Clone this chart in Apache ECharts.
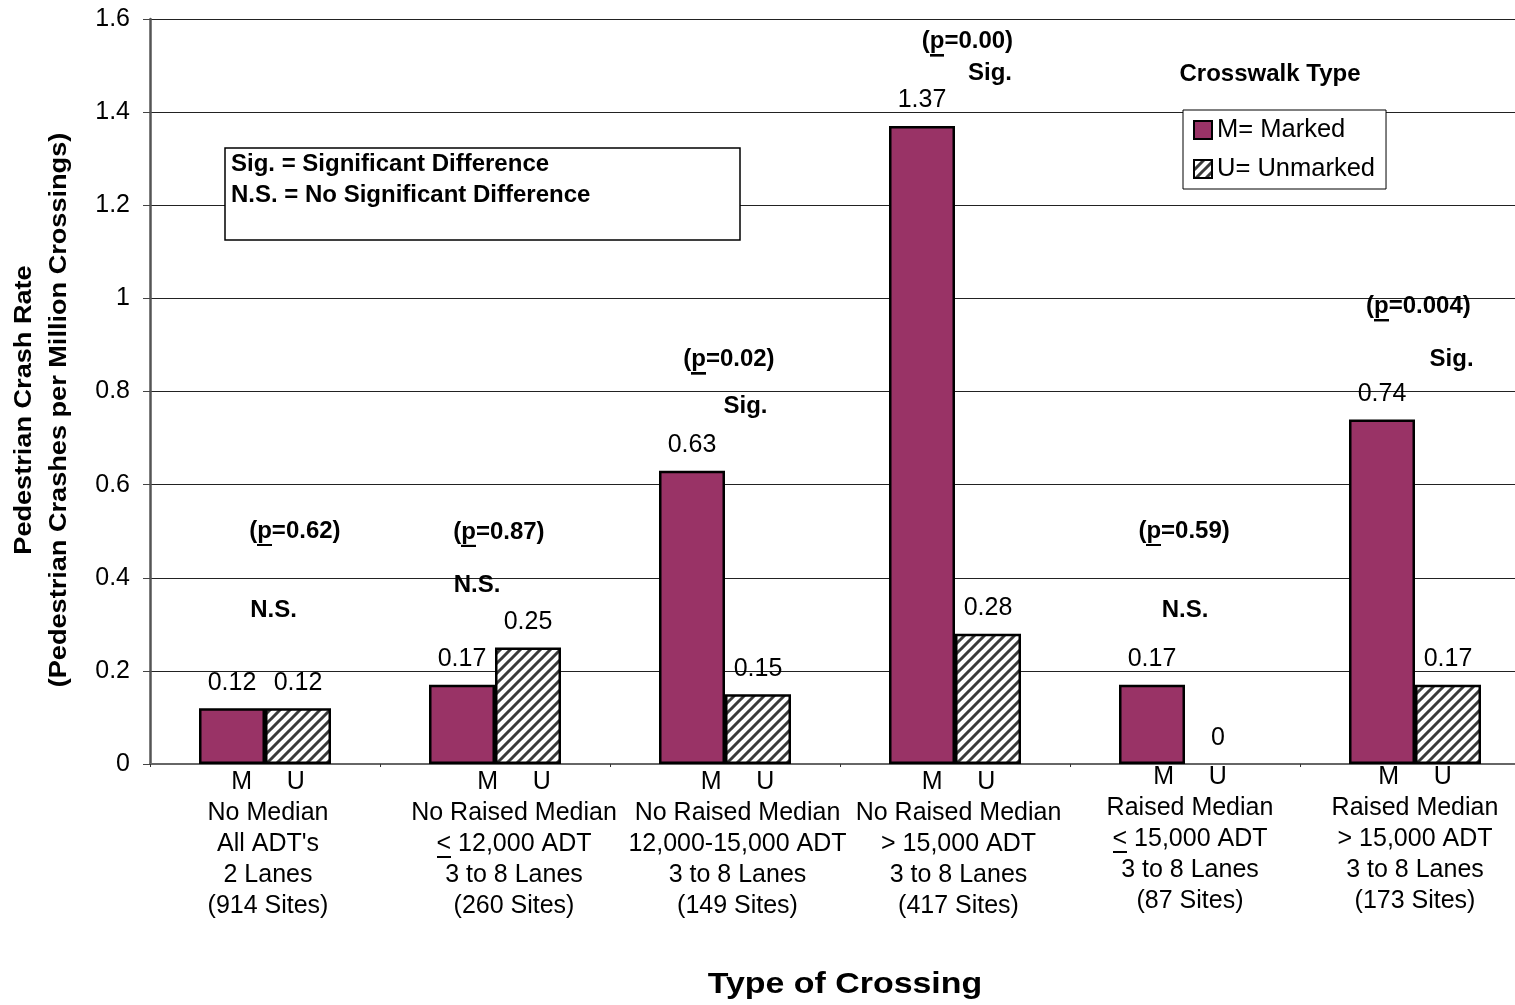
<!DOCTYPE html>
<html><head><meta charset="utf-8">
<script src="https://cdn.jsdelivr.net/npm/echarts@6/dist/echarts.min.js"></script>
<style>html,body{margin:0;padding:0;background:#fff;overflow:hidden}#c{width:1530px;height:1005px}</style>
</head><body><div id="c"></div>
<script>
// ---- data ----
const categories = [
  "No Median\nAll ADT's\n2 Lanes\n(914 Sites)",
  "No Raised Median\n≤ 12,000 ADT\n3 to 8 Lanes\n(260 Sites)",
  "No Raised Median\n12,000-15,000 ADT\n3 to 8 Lanes\n(149 Sites)",
  "No Raised Median\n> 15,000 ADT\n3 to 8 Lanes\n(417 Sites)",
  "Raised Median\n≤ 15,000 ADT\n3 to 8 Lanes\n(87 Sites)",
  "Raised Median\n> 15,000 ADT\n3 to 8 Lanes\n(173 Sites)"
];
const barTags = 'M     U';
const seriesNames = ['M= Marked', 'U= Unmarked'];
const markedValues = [0.12, 0.17, 0.63, 1.37, 0.17, 0.74];
const unmarkedValues = [0.12, 0.25, 0.15, 0.28, 0, 0.17];
const yTicks = { min: 0, max: 1.6, interval: 0.2 };
// annotations: [category index, offset within category, value, text]
const pValues = [
  [0, 0.13, 0.500, '(p=0.62)'],
  [1, 0.017, 0.498, '(p=0.87)'],
  [2, 0.017, 0.868, '(p=0.02)'],
  [3, 0.054, 1.551, '(p=0.00)'],
  [4, -0.004, 0.500, '(p=0.59)'],
  [5, 0.015, 0.982, '(p=0.004)']
];
const sigLabels = [
  [0, 0.037, 0.331, 'N.S.'],
  [1, -0.078, 0.384, 'N.S.'],
  [2, 0.089, 0.767, 'Sig.'],
  [3, 0.152, 1.484, 'Sig.'],
  [4, 0.0, 0.331, 'N.S.'],
  [5, 0.159, 0.868, 'Sig.']
];

// ---- layout (px shifts of each category's label block) ----
const labelShiftX = [3, 19, 12.5, 3.5, 5, 0];
const labelRaised = [false, false, false, false, true, true];

// ---- helpers ----
const FONT = '"Liberation Sans", Arial, sans-serif';
function hatchCanvas() {
  const s = 10, c = document.createElement('canvas');
  c.width = s; c.height = s;
  const g = c.getContext('2d');
  g.fillStyle = '#fff'; g.fillRect(0, 0, s, s);
  g.strokeStyle = '#3a3a3a'; g.lineWidth = 3;
  g.beginPath();
  for (const o of [-s, 0, s]) { g.moveTo(o - 1, s + 1); g.lineTo(o + s + 1, -1); }
  g.stroke();
  return c;
}
function underlineCanvas(top, bottom) {
  const c = document.createElement('canvas');
  c.width = 4; c.height = 100;
  const g = c.getContext('2d');
  g.fillStyle = '#000'; g.fillRect(0, top, 4, bottom - top);
  return c;
}
const hatch = { image: hatchCanvas(), repeat: 'repeat' };
const ulAxis = { image: underlineCanvas(90, 97) };
const ulP = { image: underlineCanvas(89, 96) };

const chart = echarts.init(document.getElementById('c'), null, { renderer: 'canvas' });

const barLabel = { show: true, position: 'top', distance: 13, fontSize: 25, fontFamily: FONT, color: '#000' };

function barData(vals) {
  return vals.map(v => ({ value: v, itemStyle: { borderWidth: v === 0 ? 0 : 2.5 } }));
}
function annData(arr) {
  return arr.map(a => ({ value: [a[0] + a[1], a[2]], txt: a[3] }));
}
const annLabelBase = {
  show: true, position: 'inside', fontSize: 24, fontWeight: 'bold', fontFamily: FONT, color: '#000',
  textBorderWidth: 0, textBorderColor: 'transparent', opacity: 1
};

// rich styles for axis labels
const axisRich = {
  mu: { fontSize: 25, lineHeight: 31, fontFamily: FONT, color: '#000' },
  muR: { fontSize: 25, lineHeight: 21, fontFamily: FONT, color: '#000' },
  sp: { fontSize: 1, lineHeight: 5 },
  u: { fontSize: 25, fontFamily: FONT, color: '#000', height: 28, backgroundColor: ulAxis }
};
labelShiftX.forEach((s, i) => { axisRich['w' + i] = { width: Math.max(0, 2 * s), fontSize: 1, lineHeight: 1 }; });

function axisFormatter(value, index) {
  const pad = labelShiftX[index] > 0 ? '{w' + index + '| }' : '';
  const raised = labelRaised[index];
  const lines = [pad + '{' + (raised ? 'muR' : 'mu') + '|' + barTags + '}'];
  if (raised) lines.push('{sp| }');
  value.split('\n').forEach(l => lines.push(pad + l.replace(/≤/g, '{u|<}')));
  return lines.join('\n');
}

const option = {
  backgroundColor: '#fff',
  animation: false,
  grid: { left: 150, top: 19, right: 0, bottom: 241, containLabel: false },
  legend: {
    data: seriesNames,
    orient: 'vertical',
    left: 1183, top: 110,
    padding: [7, 11, 7, 10],
    itemGap: 13,
    itemWidth: 18, itemHeight: 18,
    icon: 'rect',
    backgroundColor: '#fff',
    borderColor: '#000', borderWidth: 1,
    textStyle: { fontSize: 25.5, fontFamily: FONT, color: '#000', lineHeight: 26 },
    selectedMode: false,
    z: 20
  },
  xAxis: [{
    type: 'category',
    data: categories,
    axisLine: { show: true, lineStyle: { color: '#666', width: 2 } },
    axisTick: { show: true, length: 3, lineStyle: { color: '#333' } },
    axisLabel: {
      interval: 0, margin: 3, fontSize: 25, lineHeight: 31, fontFamily: FONT, color: '#000',
      formatter: axisFormatter,
      rich: axisRich
    },
    splitLine: { show: false }
  }, {
    type: 'value', min: -0.5, max: 5.5, show: false
  }],
  yAxis: {
    type: 'value', min: yTicks.min, max: yTicks.max, interval: yTicks.interval,
    axisLine: { show: true, onZero: false, lineStyle: { color: '#555', width: 2.5 } },
    axisTick: { show: true, length: 7, lineStyle: { color: '#444' } },
    axisLabel: { margin: 20, fontSize: 25, fontFamily: FONT, color: '#000' },
    splitLine: { show: true, lineStyle: { color: '#222', width: 1 } }
  },
  series: [{
    name: seriesNames[0], type: 'bar', data: barData(markedValues),
    barWidth: 66, barGap: '0%',
    itemStyle: { color: '#993366', borderColor: '#000', borderWidth: 2.5 },
    label: barLabel, z: 3
  }, {
    name: seriesNames[1], type: 'bar', data: barData(unmarkedValues),
    barWidth: 66, barGap: '0%',
    itemStyle: { color: hatch, borderColor: '#000', borderWidth: 2.5 },
    label: barLabel, z: 3
  }, {
    type: 'scatter', xAxisIndex: 1, symbolSize: 0, silent: true,
    itemStyle: { color: '#000' },
    data: annData(pValues),
    label: Object.assign({}, annLabelBase, {
      formatter: p => p.data.txt.replace('(p', '({u|p}'),
      rich: {
        u: { fontSize: 24, fontWeight: 'bold', fontFamily: FONT, color: '#000', height: 32, backgroundColor: ulP }
      }
    }),
    z: 10
  }, {
    type: 'scatter', xAxisIndex: 1, symbolSize: 0, silent: true,
    itemStyle: { color: '#000' },
    data: annData(sigLabels),
    label: Object.assign({}, annLabelBase, { formatter: p => p.data.txt }),
    z: 10
  }],
  graphic: [
    {
      type: 'rect', z: 50,
      shape: { x: 225, y: 148, width: 515, height: 92 },
      style: { fill: '#fff', stroke: '#000', lineWidth: 1.5 }
    },
    {
      type: 'text', z: 51, x: 231, y: 164,
      style: { text: 'Sig. = Significant Difference', font: 'bold 24px ' + FONT, fill: '#000', textAlign: 'left', textVerticalAlign: 'middle', verticalAlign: 'middle' }
    },
    {
      type: 'text', z: 51, x: 231, y: 195,
      style: { text: 'N.S. = No Significant Difference', font: 'bold 24px ' + FONT, fill: '#000', textAlign: 'left', textVerticalAlign: 'middle', verticalAlign: 'middle' }
    },
    {
      type: 'text', z: 51, x: 1270, y: 74,
      style: { text: 'Crosswalk Type', font: 'bold 24px ' + FONT, fill: '#000', textAlign: 'center', textVerticalAlign: 'middle', verticalAlign: 'middle' }
    },
    {
      type: 'text', z: 51, x: 42, y: 410, rotation: Math.PI / 2, scaleX: 1.13,
      style: { text: 'Pedestrian Crash Rate\n(Pedestrian Crashes per Million Crossings)', font: 'bold 24px ' + FONT, lineHeight: 35, fill: '#000', textAlign: 'center', textVerticalAlign: 'middle', verticalAlign: 'middle' }
    },
    {
      type: 'text', z: 51, x: 845, y: 985, scaleX: 1.13,
      style: { text: 'Type of Crossing', font: 'bold 30px ' + FONT, fill: '#000', textAlign: 'center', textVerticalAlign: 'middle', verticalAlign: 'middle' }
    }
  ]
};
chart.setOption(option);
</script>
</body></html>
